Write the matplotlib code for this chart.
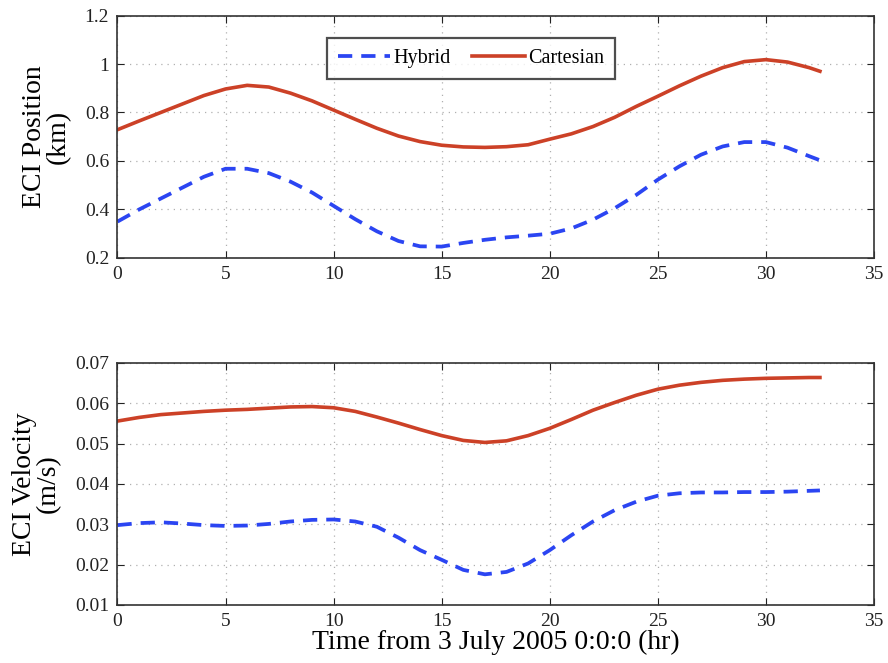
import numpy as np
import matplotlib.pyplot as plt

# hours since 3 July 2005 0:0:0
t_hr = [0, 1, 2, 3, 4, 5, 6, 7, 8, 9, 10, 11, 12, 13, 14, 15, 16,
        17, 18, 19, 20, 21, 22, 23, 24, 25, 26, 27, 28, 29, 30, 31, 32, 32.5]

# ECI position error (km)
pos_hybrid = [0.350, 0.400, 0.445, 0.490, 0.535, 0.568, 0.568, 0.550, 0.515,
              0.470, 0.415, 0.360, 0.310, 0.270, 0.248, 0.247, 0.262, 0.275,
              0.285, 0.292, 0.300, 0.322, 0.358, 0.405, 0.460, 0.523, 0.578,
              0.626, 0.660, 0.678, 0.678, 0.655, 0.620, 0.603]
pos_cart = [0.729, 0.765, 0.800, 0.835, 0.870, 0.897, 0.912, 0.905, 0.880,
            0.848, 0.810, 0.772, 0.735, 0.703, 0.680, 0.665, 0.658, 0.656,
            0.659, 0.667, 0.690, 0.712, 0.742, 0.780, 0.825, 0.867, 0.910,
            0.950, 0.985, 1.010, 1.018, 1.008, 0.985, 0.970]

# ECI velocity error (m/s)
vel_hybrid = [0.0298, 0.0303, 0.0305, 0.0302, 0.0298, 0.0296, 0.0297, 0.0301,
              0.0307, 0.0311, 0.0312, 0.0307, 0.0294, 0.0267, 0.0236, 0.0212,
              0.0187, 0.0176, 0.0182, 0.0203, 0.0236, 0.0273, 0.0307, 0.0335,
              0.0356, 0.0371, 0.0377, 0.0379, 0.0379, 0.0380, 0.0380, 0.0381,
              0.0383, 0.0384]
vel_cart = [0.0556, 0.0565, 0.0572, 0.0576, 0.0580, 0.0583, 0.0585, 0.0588,
            0.0591, 0.0592, 0.0589, 0.0580, 0.0566, 0.0551, 0.0535, 0.0520,
            0.0508, 0.0503, 0.0507, 0.0520, 0.0538, 0.0560, 0.0583, 0.0602,
            0.0620, 0.0635, 0.0645, 0.0652, 0.0657, 0.0660, 0.0662, 0.0663,
            0.0664, 0.0664]

x_ticks = [0, 5, 10, 15, 20, 25, 30, 35]
pos_ticks = [0.2, 0.4, 0.6, 0.8, 1.0, 1.2]
pos_ticklabels = ['0.2', '0.4', '0.6', '0.8', '1', '1.2']
vel_ticks = [0.01, 0.02, 0.03, 0.04, 0.05, 0.06, 0.07]

blue = '#2b45f2'
red = '#cc4127'

plt.rcParams['font.family'] = ['Liberation Serif', 'DejaVu Serif']

fig = plt.figure(figsize=(8.88, 6.63), dpi=100)
ax1 = fig.add_axes([0.1323, 0.6109, 0.8519, 0.3657])
ax2 = fig.add_axes([0.1323, 0.0875, 0.8519, 0.3650])


def style_axes(ax):
    ax.set_xlim(0, 35)
    ax.set_xticks(x_ticks)
    ax.grid(True, linestyle=(0, (1, 4)), color='#b0b0b0', linewidth=0.9)
    ax.tick_params(direction='in', top=True, right=True, labelsize=14,
                   length=5, width=0.8, colors='#222222', pad=6)
    for sp in ax.spines.values():
        sp.set_linewidth(1.2)
        sp.set_color('#333333')


ax1.plot(t_hr, pos_hybrid, color=blue, lw=2.7, ls=(0, (3.8, 2.4)), label='Hybrid')
ax1.plot(t_hr, pos_cart, color=red, lw=2.6, label='Cartesian')
style_axes(ax1)
ax1.set_ylim(0.2, 1.2)
ax1.set_yticks(pos_ticks)
ax1.set_yticklabels(pos_ticklabels)
ax1.set_ylabel('ECI Position\n(km)', fontsize=20, linespacing=0.95, labelpad=10)

leg = ax1.legend(loc='center', bbox_to_anchor=(0.467, 0.823), ncol=2,
                 fontsize=14.5, frameon=True, fancybox=False, shadow=False,
                 handlelength=2.6, handletextpad=0.15, columnspacing=1.1,
                 borderpad=0.55, borderaxespad=0)
leg.get_frame().set_edgecolor('#222222')
leg.get_frame().set_linewidth(1.6)

ax2.plot(t_hr, vel_hybrid, color=blue, lw=2.7, ls=(0, (3.8, 2.4)))
ax2.plot(t_hr, vel_cart, color=red, lw=2.6)
style_axes(ax2)
ax2.set_ylim(0.01, 0.07)
ax2.set_yticks(vel_ticks)
ax2.set_yticklabels(['%.2f' % v for v in vel_ticks])
ax2.set_ylabel('ECI Velocity\n(m/s)', fontsize=20, linespacing=0.95, labelpad=10)
ax2.set_xlabel('Time from 3 July 2005 0:0:0 (hr)', fontsize=20, labelpad=0)

fig.savefig('out.png', dpi=100)
